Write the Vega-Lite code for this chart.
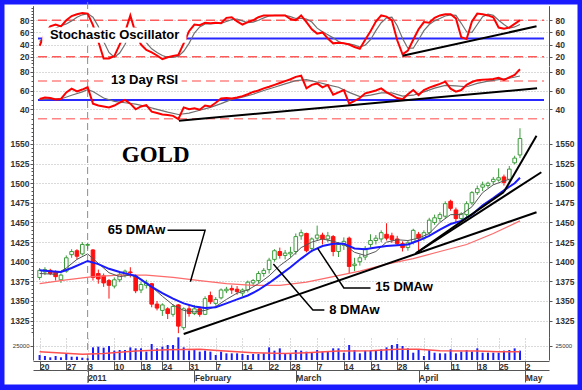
{
"$schema": "https://vega.github.io/schema/vega-lite/v6.json",
"width": 578, "height": 385, "autosize": "none",
"padding": {"left": 2, "top": 2, "right": 2, "bottom": 3},
"background": "#1a1aff",
"config": {
  "view": {"stroke": "#1a1aff", "strokeWidth": 5, "fill": "#ffffff"},
  "axis": {"labelFont": "Liberation Sans", "labelFontSize": 8.5, "labelFontWeight": "bold", "labelColor": "#333333", "domainColor": "#555555", "tickColor": "#555555", "gridColor": "#b4b4b4", "gridDash": [1, 2], "labelOverlap": false, "labelFlush": false}
},
"data": {"values": [{"z": 0}]},
"datasets": {
"d": [
{"t":0,"o":1380,"h":1392,"l":1377,"c":1389,"v":8600,"k":38,"dd":45,"r":51},
{"t":1,"o":1387,"h":1393,"l":1383,"c":1390,"v":6900,"k":58,"dd":52,"r":52.5},
{"t":2,"o":1389,"h":1391,"l":1383,"c":1385,"v":4600,"k":70,"dd":62,"r":52},
{"t":3,"o":1387,"h":1389,"l":1376,"c":1381,"v":6900,"k":73,"dd":67,"r":50.5},
{"t":4,"o":1377,"h":1385,"l":1373,"c":1383,"v":4600,"k":70,"dd":71,"r":51},
{"t":5,"o":1388,"h":1408,"l":1386,"c":1405,"v":10300,"k":80,"dd":74,"r":58},
{"t":6,"o":1409,"h":1416,"l":1405,"c":1413,"v":5700,"k":87,"dd":79,"r":62},
{"t":7,"o":1414,"h":1416,"l":1403,"c":1407,"v":5700,"k":90,"dd":85,"r":59},
{"t":8,"o":1410,"h":1425,"l":1408,"c":1422,"v":4000,"k":92,"dd":89,"r":61},
{"t":9,"o":1421,"h":1424,"l":1416,"c":1422,"v":3000,"k":91,"dd":91,"r":63.5},
{"t":10,"o":1415,"h":1416,"l":1376,"c":1380,"v":21800,"k":72,"dd":85,"r":46},
{"t":11,"o":1385,"h":1390,"l":1372,"c":1378,"v":23000,"k":45,"dd":70,"r":44},
{"t":12,"o":1382,"h":1385,"l":1368,"c":1373,"v":21300,"k":17,"dd":45,"r":43},
{"t":13,"o":1376,"h":1378,"l":1353,"c":1370,"v":24100,"k":17,"dd":27,"r":42},
{"t":14,"o":1369,"h":1380,"l":1366,"c":1377,"v":16100,"k":21,"dd":19,"r":44},
{"t":15,"o":1377,"h":1386,"l":1374,"c":1384,"v":17200,"k":40,"dd":26,"r":47},
{"t":16,"o":1383,"h":1390,"l":1380,"c":1388,"v":17200,"k":60,"dd":40,"r":50},
{"t":17,"o":1387,"h":1393,"l":1380,"c":1386,"v":21800,"k":88,"dd":62,"r":46},
{"t":18,"o":1382,"h":1384,"l":1360,"c":1363,"v":20100,"k":58,"dd":68,"r":40},
{"t":19,"o":1364,"h":1375,"l":1360,"c":1371,"v":20100,"k":40,"dd":62,"r":43},
{"t":20,"o":1370,"h":1377,"l":1366,"c":1373,"v":14400,"k":31,"dd":43,"r":44.5},
{"t":21,"o":1372,"h":1373,"l":1342,"c":1346,"v":27600,"k":27,"dd":33,"r":37.5},
{"t":22,"o":1346,"h":1350,"l":1338,"c":1341,"v":20100,"k":22,"dd":27,"r":36},
{"t":23,"o":1338,"h":1347,"l":1331,"c":1345,"v":23000,"k":16,"dd":22,"r":34.5},
{"t":24,"o":1340,"h":1342,"l":1327,"c":1334,"v":25900,"k":19,"dd":19,"r":34},
{"t":25,"o":1333,"h":1346,"l":1330,"c":1343,"v":25900,"k":21,"dd":19,"r":33},
{"t":26,"o":1345,"h":1346,"l":1309,"c":1318,"v":39100,"k":23,"dd":21,"r":29.5},
{"t":27,"o":1316,"h":1342,"l":1313,"c":1340,"v":21800,"k":42,"dd":29,"r":42},
{"t":28,"o":1340,"h":1345,"l":1330,"c":1334,"v":16100,"k":62,"dd":42,"r":40},
{"t":29,"o":1334,"h":1345,"l":1332,"c":1340,"v":17200,"k":73,"dd":59,"r":41},
{"t":30,"o":1340,"h":1343,"l":1330,"c":1333,"v":14400,"k":72,"dd":69,"r":39.5},
{"t":31,"o":1333,"h":1356,"l":1332,"c":1353,"v":16100,"k":76,"dd":74,"r":44},
{"t":32,"o":1357,"h":1362,"l":1346,"c":1349,"v":14400,"k":75,"dd":74,"r":43},
{"t":33,"o":1347,"h":1355,"l":1344,"c":1352,"v":8600,"k":76,"dd":75,"r":47},
{"t":34,"o":1354,"h":1366,"l":1352,"c":1364,"v":14400,"k":75,"dd":75,"r":51.5},
{"t":35,"o":1363,"h":1368,"l":1360,"c":1365,"v":11500,"k":84,"dd":78,"r":52},
{"t":36,"o":1366,"h":1370,"l":1359,"c":1364,"v":11500,"k":85,"dd":81,"r":51.5},
{"t":37,"o":1365,"h":1369,"l":1358,"c":1362,"v":11500,"k":78,"dd":82,"r":52.5},
{"t":38,"o":1360,"h":1366,"l":1356,"c":1364,"v":10300,"k":73,"dd":79,"r":54},
{"t":39,"o":1364,"h":1376,"l":1361,"c":1374,"v":8600,"k":77,"dd":76,"r":56},
{"t":40,"o":1373,"h":1378,"l":1370,"c":1376,"v":10300,"k":80,"dd":77,"r":58.5},
{"t":41,"o":1376,"h":1388,"l":1373,"c":1385,"v":10300,"k":85,"dd":80,"r":60},
{"t":42,"o":1385,"h":1392,"l":1381,"c":1389,"v":11500,"k":88,"dd":84,"r":62.3},
{"t":43,"o":1390,"h":1405,"l":1385,"c":1402,"v":21800,"k":88,"dd":87,"r":64},
{"t":44,"o":1403,"h":1416,"l":1400,"c":1414,"v":16100,"k":88,"dd":88,"r":66},
{"t":45,"o":1413,"h":1418,"l":1404,"c":1408,"v":20100,"k":88,"dd":88,"r":68},
{"t":46,"o":1408,"h":1415,"l":1403,"c":1411,"v":11500,"k":88,"dd":88,"r":70},
{"t":47,"o":1410,"h":1419,"l":1405,"c":1412,"v":11500,"k":82,"dd":86,"r":72},
{"t":48,"o":1413,"h":1436,"l":1409,"c":1432,"v":17200,"k":80,"dd":83,"r":74.5},
{"t":49,"o":1433,"h":1441,"l":1428,"c":1437,"v":16100,"k":88,"dd":83,"r":75.7},
{"t":50,"o":1436,"h":1437,"l":1412,"c":1414,"v":14400,"k":77,"dd":82,"r":62.3},
{"t":51,"o":1417,"h":1431,"l":1412,"c":1429,"v":12600,"k":65,"dd":77,"r":66},
{"t":52,"o":1430,"h":1446,"l":1427,"c":1434,"v":17200,"k":58,"dd":67,"r":67.5},
{"t":53,"o":1434,"h":1437,"l":1422,"c":1429,"v":14400,"k":60,"dd":61,"r":63.4},
{"t":54,"o":1429,"h":1438,"l":1425,"c":1433,"v":14400,"k":50,"dd":56,"r":65.9},
{"t":55,"o":1432,"h":1434,"l":1407,"c":1413,"v":20100,"k":42,"dd":51,"r":55.5},
{"t":56,"o":1413,"h":1425,"l":1406,"c":1422,"v":20100,"k":43,"dd":45,"r":58},
{"t":57,"o":1421,"h":1431,"l":1415,"c":1426,"v":12600,"k":42,"dd":42,"r":60.5},
{"t":58,"o":1430,"h":1432,"l":1385,"c":1394,"v":25900,"k":40,"dd":41,"r":46},
{"t":59,"o":1395,"h":1405,"l":1388,"c":1397,"v":17200,"k":36,"dd":39,"r":49},
{"t":60,"o":1400,"h":1409,"l":1395,"c":1405,"v":11500,"k":33,"dd":36,"r":52},
{"t":61,"o":1406,"h":1420,"l":1402,"c":1417,"v":16100,"k":48,"dd":39,"r":57},
{"t":62,"o":1422,"h":1435,"l":1418,"c":1427,"v":16100,"k":62,"dd":48,"r":58.5},
{"t":63,"o":1427,"h":1434,"l":1422,"c":1430,"v":16100,"k":78,"dd":63,"r":60},
{"t":64,"o":1429,"h":1440,"l":1425,"c":1437,"v":18400,"k":88,"dd":76,"r":62.3},
{"t":65,"o":1435,"h":1449,"l":1427,"c":1430,"v":21800,"k":86,"dd":84,"r":58},
{"t":66,"o":1433,"h":1437,"l":1424,"c":1428,"v":25900,"k":80,"dd":85,"r":55},
{"t":67,"o":1429,"h":1433,"l":1420,"c":1423,"v":27600,"k":47,"dd":71,"r":52},
{"t":68,"o":1423,"h":1426,"l":1413,"c":1418,"v":24100,"k":24,"dd":50,"r":50.6},
{"t":69,"o":1418,"h":1427,"l":1414,"c":1424,"v":20100,"k":30,"dd":34,"r":56},
{"t":70,"o":1425,"h":1442,"l":1422,"c":1440,"v":12600,"k":48,"dd":34,"r":60.5},
{"t":71,"o":1435,"h":1438,"l":1414,"c":1430,"v":17200,"k":65,"dd":48,"r":55.2},
{"t":72,"o":1430,"h":1440,"l":1427,"c":1437,"v":6900,"k":77,"dd":63,"r":60.5},
{"t":73,"o":1437,"h":1456,"l":1434,"c":1453,"v":17200,"k":76,"dd":73,"r":63},
{"t":74,"o":1450,"h":1460,"l":1447,"c":1456,"v":12600,"k":84,"dd":79,"r":65},
{"t":75,"o":1455,"h":1463,"l":1451,"c":1460,"v":11500,"k":88,"dd":83,"r":67},
{"t":76,"o":1458,"h":1477,"l":1455,"c":1474,"v":11500,"k":90,"dd":87,"r":69.4},
{"t":77,"o":1477,"h":1479,"l":1465,"c":1468,"v":18400,"k":90,"dd":89,"r":62},
{"t":78,"o":1466,"h":1469,"l":1450,"c":1455,"v":11500,"k":83,"dd":88,"r":58.7},
{"t":79,"o":1455,"h":1463,"l":1452,"c":1461,"v":14400,"k":52,"dd":75,"r":60.5},
{"t":80,"o":1460,"h":1477,"l":1457,"c":1474,"v":17200,"k":49,"dd":61,"r":66},
{"t":81,"o":1475,"h":1490,"l":1472,"c":1488,"v":14400,"k":78,"dd":60,"r":69},
{"t":82,"o":1488,"h":1497,"l":1485,"c":1493,"v":20100,"k":91,"dd":73,"r":71},
{"t":83,"o":1495,"h":1502,"l":1490,"c":1498,"v":12600,"k":90,"dd":86,"r":71.5},
{"t":84,"o":1497,"h":1502,"l":1494,"c":1500,"v":12600,"k":88,"dd":90,"r":71.8},
{"t":85,"o":1502,"h":1508,"l":1498,"c":1505,"v":12600,"k":85,"dd":88,"r":72.2},
{"t":86,"o":1504,"h":1519,"l":1502,"c":1507,"v":12600,"k":68,"dd":80,"r":73.5},
{"t":87,"o":1508,"h":1511,"l":1497,"c":1501,"v":16100,"k":66,"dd":73,"r":71.2},
{"t":88,"o":1505,"h":1522,"l":1502,"c":1518,"v":17200,"k":68,"dd":67,"r":74},
{"t":89,"o":1526,"h":1535,"l":1524,"c":1532,"v":20100,"k":74,"dd":69,"r":76.5},
{"t":90,"o":1536,"h":1570,"l":1532,"c":1557,"v":16100,"k":80,"dd":73,"r":82.6}
],
"m15": [{"t":0,"y":1389},{"t":2,"y":1388},{"t":4,"y":1387},{"t":6,"y":1392},{"t":8,"y":1398},{"t":9,"y":1401},{"t":11,"y":1397},{"t":13,"y":1391},{"t":15,"y":1387},{"t":18,"y":1382},{"t":21,"y":1368},{"t":23,"y":1360},{"t":25,"y":1353},{"t":27,"y":1347},{"t":29,"y":1343},{"t":31,"y":1341},{"t":33,"y":1342},{"t":35,"y":1347},{"t":37,"y":1352},{"t":39,"y":1357},{"t":41,"y":1364},{"t":43,"y":1373},{"t":45,"y":1383},{"t":47,"y":1393},{"t":49,"y":1404},{"t":51,"y":1414},{"t":53,"y":1420},{"t":55,"y":1423},{"t":57,"y":1423},{"t":59,"y":1417},{"t":61,"y":1416},{"t":63,"y":1418},{"t":65,"y":1420},{"t":67,"y":1421},{"t":69,"y":1422},{"t":71,"y":1427},{"t":73,"y":1433},{"t":75,"y":1441},{"t":77,"y":1448},{"t":79,"y":1452},{"t":81,"y":1460},{"t":83,"y":1472},{"t":85,"y":1481},{"t":87,"y":1491},{"t":89,"y":1500},{"t":90,"y":1507}],
"m8": [{"t":0,"y":1385},{"t":3,"y":1384},{"t":5,"y":1392},{"t":7,"y":1403},{"t":9,"y":1410},{"t":11,"y":1398},{"t":13,"y":1386},{"t":15,"y":1381},{"t":17,"y":1383},{"t":19,"y":1378},{"t":21,"y":1368},{"t":23,"y":1356},{"t":25,"y":1345},{"t":27,"y":1338},{"t":29,"y":1336},{"t":31,"y":1338},{"t":33,"y":1343},{"t":35,"y":1352},{"t":37,"y":1360},{"t":39,"y":1364},{"t":41,"y":1372},{"t":43,"y":1382},{"t":45,"y":1395},{"t":47,"y":1405},{"t":49,"y":1418},{"t":51,"y":1425},{"t":53,"y":1429},{"t":55,"y":1426},{"t":57,"y":1422},{"t":59,"y":1412},{"t":61,"y":1408},{"t":63,"y":1413},{"t":65,"y":1425},{"t":67,"y":1428},{"t":69,"y":1427},{"t":71,"y":1430},{"t":73,"y":1436},{"t":75,"y":1450},{"t":77,"y":1460},{"t":79,"y":1460},{"t":81,"y":1470},{"t":83,"y":1488},{"t":85,"y":1498},{"t":87,"y":1503},{"t":88,"y":1505}],
"m65": [{"t":0,"y":1372},{"t":5,"y":1377},{"t":10,"y":1381},{"t":15,"y":1383},{"t":20,"y":1383},{"t":25,"y":1380},{"t":30,"y":1376},{"t":35,"y":1372},{"t":40,"y":1370},{"t":45,"y":1370},{"t":50,"y":1374},{"t":55,"y":1381},{"t":60,"y":1388},{"t":65,"y":1397},{"t":70,"y":1404},{"t":75,"y":1413},{"t":80,"y":1422},{"t":85,"y":1436},{"t":90,"y":1452}],
"rsig": [{"t":0,"y":50.5},{"t":2,"y":51},{"t":4,"y":51},{"t":6,"y":55},{"t":8,"y":58.5},{"t":9,"y":61},{"t":10,"y":59},{"t":12,"y":52},{"t":14,"y":48.5},{"t":16,"y":47},{"t":18,"y":45.5},{"t":20,"y":43},{"t":22,"y":40},{"t":24,"y":37},{"t":26,"y":34.5},{"t":28,"y":36},{"t":30,"y":39},{"t":32,"y":42},{"t":34,"y":46},{"t":36,"y":50.5},{"t":38,"y":53},{"t":40,"y":56},{"t":42,"y":60},{"t":44,"y":63.5},{"t":46,"y":67},{"t":48,"y":70.5},{"t":50,"y":71.5},{"t":52,"y":69},{"t":54,"y":66},{"t":56,"y":63.5},{"t":58,"y":58},{"t":60,"y":53.5},{"t":62,"y":55},{"t":64,"y":57.5},{"t":66,"y":57.5},{"t":68,"y":54},{"t":70,"y":55},{"t":72,"y":58.5},{"t":74,"y":62.5},{"t":76,"y":65.5},{"t":78,"y":65},{"t":80,"y":64},{"t":82,"y":67.5},{"t":84,"y":70},{"t":86,"y":71.5},{"t":88,"y":73},{"t":90,"y":75.4}],
"vma": [{"t":0,"y":14300},{"t":8,"y":10000},{"t":12,"y":11000},{"t":18,"y":15500},{"t":24,"y":17500},{"t":30,"y":18400},{"t":34,"y":16000},{"t":40,"y":12600},{"t":46,"y":11000},{"t":50,"y":12600},{"t":56,"y":15500},{"t":62,"y":16000},{"t":67,"y":18400},{"t":71,"y":18400},{"t":75,"y":16000},{"t":82,"y":15500},{"t":86,"y":14300},{"t":90,"y":14300}],
"tr": [{"g":"a","t":27,"p":1308},{"g":"a","t":93.1,"p":1463},{"g":"b","t":70.5,"p":1410.8},{"g":"b","t":94,"p":1514},{"g":"c","t":70.5,"p":1410.8},{"g":"c","t":87,"p":1489},{"g":"e","t":87,"p":1489},{"g":"e","t":93.1,"p":1560.6}],
"ld": [{"g":"65","t":23.97,"p":1440},{"g":"65","t":31.0,"p":1440},{"g":"65","t":28.25,"p":1374.6},{"g":"15","t":52.1,"p":1417},{"g":"15","t":57.0,"p":1366.6},{"g":"15","t":62.0,"p":1366.6},{"g":"8","t":43.8,"p":1397},{"g":"8","t":51.2,"p":1338.5},{"g":"8","t":53.35,"p":1338.5}],
"tx": [{"t":12.76,"p":1439.8,"s":"65 DMAw"},{"t":62.9,"p":1367.8,"s":"15 DMAw"},{"t":54.27,"p":1338.5,"s":"8 DMAw"}]
},
"resolve": {"scale": {"y": "independent"}, "axis": {"x": "independent", "y": "independent"}},
"layer": [
{
 "resolve": {"axis": {"y": "independent"}},
 "layer": [
  {"mark": {"type": "rule", "color": "#8c8c8c", "strokeDash": [7, 4], "strokeWidth": 1},
   "encoding": {"x": {"datum": 9, "type": "quantitative", "scale": {"domain": [-0.3, 94.5], "range": [31, 547], "nice": false, "zero": false},
     "axis": {"orient": "top", "values": [0,5,9,14,19,23,28,33,38,43,47,52,57,62,67,72,77,82,86,91], "grid": true, "labels": false, "ticks": false, "domain": false, "title": null}}}},
  {"data": {"values": [{"v": 80}, {"v": 20}]},
   "mark": {"type": "rule", "color": "#ff5a5a", "strokeDash": [9, 5], "strokeWidth": 1.5},
   "encoding": {"x": {"datum": -0.3, "type": "quantitative", "axis": null}, "x2": {"datum": 94.5},
     "y": {"field": "v", "type": "quantitative", "scale": {"domain": [5, 104], "range": [63.8, 3.7], "nice": false, "zero": false},
       "axis": {"orient": "left", "offset": -31, "values": [20, 40, 60, 80], "grid": true, "tickSize": 3, "labelPadding": 1, "title": null}}}},
  {"mark": {"type": "rule", "color": "#2828ff", "strokeWidth": 2},
   "encoding": {"x": {"datum": -0.3, "type": "quantitative", "axis": null}, "x2": {"datum": 94.5},
     "y": {"datum": 50, "type": "quantitative", "axis": {"orient": "left", "offset": -31, "values": [10,15,25,30,35,45,50,55,65,70,75,85,90,95,100], "labels": false, "domain": false, "grid": false, "tickSize": 2, "title": null}}}},
  {"data": {"name": "d"}, "mark": {"type": "line", "color": "#707070", "strokeWidth": 1.2},
   "encoding": {"x": {"field": "t", "type": "quantitative", "axis": null}, "y": {"field": "dd", "type": "quantitative", "axis": null}}},
  {"data": {"name": "d"}, "mark": {"type": "line", "color": "#ff0000", "strokeWidth": 2},
   "encoding": {"x": {"field": "t", "type": "quantitative", "axis": null},
     "y": {"field": "k", "type": "quantitative", "axis": {"orient": "right", "offset": -31, "values": [20, 40, 60, 80], "grid": false, "tickSize": 3, "labelPadding": 3, "title": null}}}},
  {"data": {"values": [{"t": 68, "v": 21.5}, {"t": 93.1, "v": 70}]}, "mark": {"type": "line", "color": "#000000", "strokeWidth": 2},
   "encoding": {"x": {"field": "t", "type": "quantitative", "axis": null}, "y": {"field": "v", "type": "quantitative", "axis": null}}},
  {"mark": {"type": "rect", "fill": "#ffffff"},
   "encoding": {"x": {"datum": 0.5, "type": "quantitative", "axis": null}, "x2": {"datum": 27.5}, "y": {"datum": 43, "type": "quantitative", "axis": null}, "y2": {"datum": 68}}},
  {"mark": {"type": "text", "text": "Stochastic Oscillator", "font": "Liberation Sans", "fontWeight": "bold", "fontSize": 13, "align": "left", "baseline": "middle", "color": "#000000"},
   "encoding": {"x": {"datum": 1.93, "type": "quantitative", "axis": null}, "y": {"datum": 55.8, "type": "quantitative", "axis": null}}}
 ]
},
{
 "resolve": {"axis": {"y": "independent"}},
 "layer": [
  {"data": {"values": [{"v": 70}, {"v": 30}]},
   "mark": {"type": "rule", "color": "#ff8484", "strokeDash": [9, 5], "strokeWidth": 1.5},
   "encoding": {"x": {"datum": -0.3, "type": "quantitative", "axis": {"orient": "top", "values": [0,5,9,14,19,23,28,33,38,43,47,52,57,62,67,72,77,82,86,91], "grid": true, "labels": false, "ticks": false, "domain": false, "title": null}}, "x2": {"datum": 94.5},
     "y": {"field": "v", "type": "quantitative", "scale": {"domain": [26, 86], "range": [120.46, 64.06], "nice": false, "zero": false},
       "axis": {"orient": "left", "offset": -31, "values": [40, 60, 80], "grid": true, "tickSize": 3, "labelPadding": 1, "title": null}}}},
  {"mark": {"type": "rule", "color": "#2828ff", "strokeWidth": 2},
   "encoding": {"x": {"datum": -0.3, "type": "quantitative", "axis": null}, "x2": {"datum": 94.5},
     "y": {"datum": 50, "type": "quantitative", "axis": {"orient": "left", "offset": -31, "values": [30,35,45,50,55,65,70,75,85], "labels": false, "domain": false, "grid": false, "tickSize": 2, "title": null}}}},
  {"data": {"name": "rsig"}, "mark": {"type": "line", "color": "#707070", "strokeWidth": 1.2},
   "encoding": {"x": {"field": "t", "type": "quantitative", "axis": null}, "y": {"field": "y", "type": "quantitative", "axis": null}}},
  {"data": {"name": "d"}, "mark": {"type": "line", "color": "#ff0000", "strokeWidth": 2},
   "encoding": {"x": {"field": "t", "type": "quantitative", "axis": null},
     "y": {"field": "r", "type": "quantitative", "axis": {"orient": "right", "offset": -31, "values": [40, 60, 80], "grid": false, "tickSize": 3, "labelPadding": 3, "title": null}}}},
  {"data": {"values": [{"t": 26.1, "v": 27.9}, {"t": 93.2, "v": 62.3}]}, "mark": {"type": "line", "color": "#000000", "strokeWidth": 2},
   "encoding": {"x": {"field": "t", "type": "quantitative", "axis": null}, "y": {"field": "v", "type": "quantitative", "axis": null}}},
  {"mark": {"type": "rect", "fill": "#ffffff"},
   "encoding": {"x": {"datum": 12.8, "type": "quantitative", "axis": null}, "x2": {"datum": 26.6}, "y": {"datum": 65, "type": "quantitative", "axis": null}, "y2": {"datum": 77.5}}},
  {"mark": {"type": "text", "text": "13 Day RSI", "font": "Liberation Sans", "fontWeight": "bold", "fontSize": 13, "align": "left", "baseline": "middle", "color": "#000000"},
   "encoding": {"x": {"datum": 13.37, "type": "quantitative", "axis": null}, "y": {"datum": 71.2, "type": "quantitative", "axis": null}}}
 ]
},
{
 "resolve": {"axis": {"y": "independent"}},
 "layer": [
  {"data": {"name": "d"}, "mark": {"type": "rule", "strokeWidth": 1},
   "encoding": {"x": {"field": "t", "type": "quantitative", "axis": {"orient": "top", "values": [0,5,9,14,19,23,28,33,38,43,47,52,57,62,67,72,77,82,86,91], "grid": true, "labels": false, "ticks": false, "domain": false, "title": null}},
     "y": {"field": "l", "type": "quantitative", "scale": {"domain": [1304, 1578], "range": [335.1, 120.0], "nice": false, "zero": false},
       "axis": {"orient": "left", "offset": -31, "values": [1325,1350,1375,1400,1425,1450,1475,1500,1525,1550], "format": "d", "grid": true, "tickSize": 3, "labelPadding": 1, "title": null}},
     "y2": {"field": "h"},
     "color": {"condition": {"test": "datum.c >= datum.o", "value": "#3c9c3c"}, "value": "#ff1010"}}},
  {"data": {"name": "d"}, "mark": {"type": "bar", "size": 3.6, "strokeWidth": 1},
   "encoding": {"x": {"field": "t", "type": "quantitative", "axis": null},
     "y": {"field": "o", "type": "quantitative", "axis": {"orient": "right", "offset": -31, "values": [1325,1350,1375,1400,1425,1450,1475,1500,1525,1550], "format": "d", "grid": false, "tickSize": 3, "labelPadding": 3, "title": null}},
     "y2": {"field": "c"},
     "fill": {"condition": {"test": "datum.c >= datum.o", "value": "#ffffff"}, "value": "#ff1010"},
     "stroke": {"condition": {"test": "datum.c >= datum.o", "value": "#3c9c3c"}, "value": "#ff1010"}}},
  {"data": {"name": "m65"}, "mark": {"type": "line", "color": "#ff6a6a", "strokeWidth": 1.2},
   "encoding": {"x": {"field": "t", "type": "quantitative", "axis": null}, "y": {"field": "y", "type": "quantitative", "axis": {"orient": "left", "offset": -31, "values": [1310,1315,1320,1330,1335,1340,1345,1355,1360,1365,1370,1380,1385,1390,1395,1405,1410,1415,1420,1430,1435,1440,1445,1455,1460,1465,1470,1480,1485,1490,1495,1505,1510,1515,1520,1530,1535,1540,1545,1555,1560,1565,1570,1575], "labels": false, "domain": false, "grid": false, "tickSize": 2, "title": null}}}},
  {"data": {"name": "m8"}, "mark": {"type": "line", "color": "#555555", "strokeWidth": 1},
   "encoding": {"x": {"field": "t", "type": "quantitative", "axis": null}, "y": {"field": "y", "type": "quantitative", "axis": null}}},
  {"data": {"name": "m15"}, "mark": {"type": "line", "color": "#1a1aff", "strokeWidth": 2},
   "encoding": {"x": {"field": "t", "type": "quantitative", "axis": null}, "y": {"field": "y", "type": "quantitative", "axis": null}}},
  {"data": {"name": "tr"}, "mark": {"type": "line", "color": "#000000", "strokeWidth": 2},
   "encoding": {"x": {"field": "t", "type": "quantitative", "axis": null}, "y": {"field": "p", "type": "quantitative", "axis": null}, "detail": {"field": "g"}}},
  {"data": {"name": "ld"}, "mark": {"type": "line", "color": "#000000", "strokeWidth": 1.5},
   "encoding": {"x": {"field": "t", "type": "quantitative", "axis": null}, "y": {"field": "p", "type": "quantitative", "axis": null}, "detail": {"field": "g"}, "order": {"value": null}}},
  {"data": {"name": "tx"}, "mark": {"type": "text", "font": "Liberation Sans", "fontWeight": "bold", "fontSize": 13, "align": "left", "baseline": "middle", "color": "#000000"},
   "encoding": {"x": {"field": "t", "type": "quantitative", "axis": null}, "y": {"field": "p", "type": "quantitative", "axis": null}, "text": {"field": "s"}}},
  {"mark": {"type": "text", "text": "GOLD", "font": "Liberation Serif", "fontWeight": "bold", "fontSize": 23, "align": "left", "baseline": "middle", "color": "#000000"},
   "encoding": {"x": {"datum": 15.4, "type": "quantitative", "axis": null}, "y": {"datum": 1536, "type": "quantitative", "axis": null}}}
 ]
},
{
 "resolve": {"axis": {"x": "independent", "y": "independent"}},
 "layer": [
  {"data": {"name": "d"}, "mark": {"type": "rule", "color": "#1a1aff", "strokeWidth": 2},
   "encoding": {"x": {"field": "t", "type": "quantitative", "axis": {"orient": "top", "values": [0,5,9,14,19,23,28,33,38,43,47,52,57,62,67,72,77,82,86,91], "grid": true, "labels": false, "ticks": false, "domain": false, "title": null}},
     "y": {"field": "v", "type": "quantitative", "scale": {"domain": [0, 40000], "range": [358, 334.8], "nice": false, "zero": false},
       "axis": {"orient": "left", "offset": -31, "values": [25000], "grid": true, "tickSize": 3, "labelPadding": 1, "labelFontSize": 6, "labelFontWeight": "normal", "format": "d", "title": null}},
     "y2": {"datum": 0}}},
  {"data": {"name": "vma"}, "mark": {"type": "line", "color": "#ff5050", "strokeWidth": 1.5},
   "encoding": {"x": {"field": "t", "type": "quantitative",
       "axis": {"orient": "bottom", "offset": -26, "values": [0,5,9,14,19,23,28,33,38,43,47,52,57,62,67,72,77,82,86,91], "labelExpr": "['20','27','3','10','18','24','31','7','14','22','28','7','14','21','28','4','11','18','25','2'][indexof([0,5,9,14,19,23,28,33,38,43,47,52,57,62,67,72,77,82,86,91], datum.value)]", "labelAlign": "left", "labelDx": 2, "labelBaseline": "middle", "labelPadding": -4, "tickSize": 9, "grid": false, "domain": true, "title": null}},
     "y": {"field": "y", "type": "quantitative", "axis": {"orient": "right", "offset": -31, "values": [25000], "grid": false, "tickSize": 3, "labelPadding": 3, "labelFontSize": 6, "labelFontWeight": "normal", "format": "d", "title": null}}}},
  {"mark": {"type": "rule", "opacity": 0},
   "encoding": {"x": {"datum": 0, "type": "quantitative",
       "axis": {"orient": "bottom", "offset": -17, "values": [9, 29, 48, 71, 91], "labelExpr": "['2011','February','March','April','May'][indexof([9,29,48,71,91], datum.value)]", "labelAlign": "left", "labelDx": 2, "labelBaseline": "middle", "labelPadding": -5, "tickSize": 12, "grid": false, "domain": true, "title": null}}}}
 ]
}
]
}
